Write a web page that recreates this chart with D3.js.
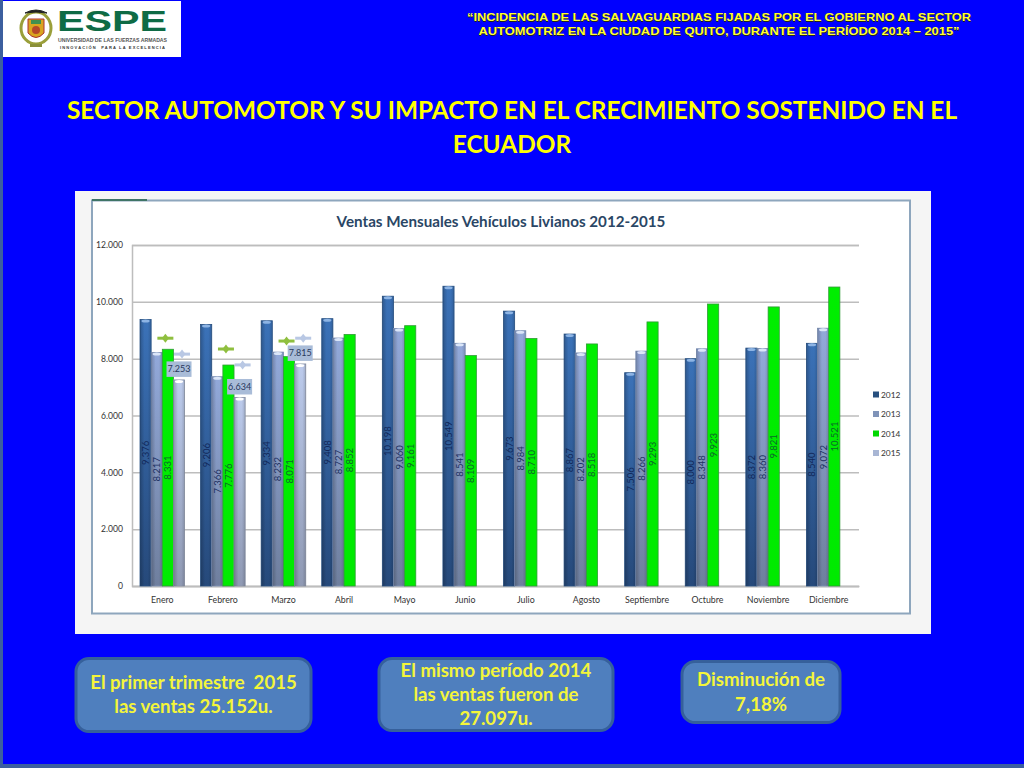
<!DOCTYPE html>
<html>
<head>
<meta charset="utf-8">
<script src="https://cdnjs.cloudflare.com/ajax/libs/d3/7.8.5/d3.min.js"></script>
<style>
html, body { margin: 0; padding: 0; background: #0000ff; overflow: hidden; }
text { font-family: Lato, "Open Sans", sans-serif; white-space: pre; }
</style>
</head>
<body>
<script>
//chart values
var months = ["Enero", "Febrero", "Marzo", "Abril", "Mayo", "Junio", "Julio", "Agosto", "Septiembre", "Octubre", "Noviembre", "Diciembre"];
var years = ["2012", "2013", "2014", "2015"];
var ventas2012 = [9376, 9206, 9334, 9408, 10198, 10549, 9673, 8867, 7506, 8000, 8372, 8540];
var ventas2013 = [8217, 7366, 8232, 8727, 9060, 8541, 8984, 8202, 8266, 8348, 8360, 9072];
var ventas2014 = [8331, 7776, 8071, 8852, 9161, 8109, 8710, 8518, 9293, 9923, 9821, 10521];
var ventas2015 = [7253, 6634, 7815];
var yTicks = [0, 2000, 4000, 6000, 8000, 10000, 12000];
//floating markers over the first quarter
var marker2014 = [8720, 8340, 8620];
var marker2015 = [8160, 7780, 8720];

var headerLines = ["“INCIDENCIA DE LAS SALVAGUARDIAS FIJADAS POR EL GOBIERNO AL SECTOR", "AUTOMOTRIZ EN LA CIUDAD DE QUITO, DURANTE EL PERÍODO 2014 – 2015”"];
var headerWidths = [504, 481];
var titleLines = ["SECTOR AUTOMOTOR Y SU IMPACTO EN EL CRECIMIENTO SOSTENIDO EN EL", "ECUADOR"];
var box1Lines = ["El primer trimestre  2015", "las ventas 25.152u."];
var box2Lines = ["El mismo período 2014", "las ventas fueron de", "27.097u."];
var box3Lines = ["Disminución de", "7,18%"];

var series = [ventas2012, ventas2013, ventas2014, ventas2015];
var topColors = ["#3b72b8", "#92a9da", "#00ee00", "#bccbec"];
var bottomColors = ["#26497a", "#6f7f9e", "#00ea00", "#8f99b3"];
var edgeColors = ["#2a5488", "#7f93b8", "#2f9a35", "#8d95a8"];
var capColors = ["#8db4e4", "#dbe6f8", "#00e000", "#ffffff"];
var labelColors = ["#12295a", "#1f3263", "#0a6a28"];
var swatchColors = ["#27507f", "#7f93b8", "#00d800", "#a8b6d4"];

function miles(d) { return d3.format(",")(d).replace(",", "."); }

var svg = d3.select("body").append("svg")
	.attr("width", 1024)
	.attr("height", 768)
	.style("display", "block");

//slide background
svg.append("rect").attr("width", 1024).attr("height", 768).attr("fill", "#0000ff");
svg.append("rect").attr("y", 764).attr("width", 1024).attr("height", 4).attr("fill", "#3c5f9f");
svg.append("rect").attr("width", 3).attr("height", 768).attr("fill", "#3c5f9f");

var defs = svg.append("defs");
series.forEach(function(s, i) {
	var g = defs.append("linearGradient")
		.attr("id", "bar" + i)
		.attr("x1", 0).attr("x2", 0).attr("y1", 0).attr("y2", 1);
	g.append("stop").attr("offset", "0%").attr("stop-color", topColors[i]);
	g.append("stop").attr("offset", "100%").attr("stop-color", bottomColors[i]);
});
//darker sides on the bars
var shade = defs.append("linearGradient").attr("id", "shade");
shade.append("stop").attr("offset", "0%").attr("stop-color", "#000").attr("stop-opacity", 0.22);
shade.append("stop").attr("offset", "40%").attr("stop-color", "#000").attr("stop-opacity", 0);
shade.append("stop").attr("offset", "70%").attr("stop-color", "#000").attr("stop-opacity", 0);
shade.append("stop").attr("offset", "100%").attr("stop-color", "#000").attr("stop-opacity", 0.15);

//logo
var logo = svg.append("g");
logo.append("rect").attr("x", 3).attr("y", 1).attr("width", 178).attr("height", 56).attr("fill", "#fff");
logo.append("ellipse").attr("cx", 36).attr("cy", 28).attr("rx", 15).attr("ry", 16)
	.attr("fill", "none").attr("stroke", "#9a9f3a").attr("stroke-width", 3);
logo.append("path").attr("d", "M28 19 L44 19 L44 33 Q36 42 28 33Z").attr("fill", "#d9a520").attr("stroke", "#a33");
logo.append("circle").attr("cx", 36).attr("cy", 30).attr("r", 4).attr("fill", "#b5482a");
logo.append("rect").attr("x", 31).attr("y", 20).attr("width", 10).attr("height", 4).attr("fill", "#3f8f4f");
logo.append("path").attr("d", "M25 13 Q36 7 47 13 Q36 11 25 13Z").attr("fill", "#222").attr("stroke", "#222");
logo.append("rect").attr("x", 30).attr("y", 44).attr("width", 12).attr("height", 3).attr("fill", "#8a8f3a");
logo.append("text").attr("x", 57).attr("y", 31)
	.attr("textLength", 110).attr("lengthAdjust", "spacingAndGlyphs")
	.style("font-family", "'Liberation Sans'").style("font-weight", "bold").style("font-size", "29px")
	.attr("fill", "#0e6b45").text("ESPE");
logo.append("text").attr("x", 58).attr("y", 42)
	.attr("textLength", 109).attr("lengthAdjust", "spacingAndGlyphs")
	.style("font-family", "'Liberation Sans'").style("font-weight", "bold").style("font-size", "5px")
	.attr("fill", "#555").text("UNIVERSIDAD DE LAS FUERZAS ARMADAS");
logo.append("text").attr("x", 60).attr("y", 49)
	.attr("textLength", 105).attr("lengthAdjust", "spacing")
	.style("font-family", "'Liberation Sans'").style("font-weight", "bold").style("font-size", "4px")
	.attr("fill", "#333").text("INNOVACIÓN  PARA LA EXCELENCIA");

//header, yellow with a dark shadow
headerLines.forEach(function(line, i) {
	[["#222", 0.8], ["#ffff33", 0]].forEach(function(p) {
		svg.append("text")
			.attr("x", 719 + p[1]).attr("y", 21 + i * 14 + p[1])
			.attr("text-anchor", "middle")
			.attr("textLength", headerWidths[i]).attr("lengthAdjust", "spacingAndGlyphs")
			.style("font-family", "'Liberation Sans'").style("font-weight", "bold").style("font-size", "11.6px")
			.attr("fill", p[0])
			.text(line);
	});
});

titleLines.forEach(function(line, i) {
	svg.append("text")
		.attr("x", 512).attr("y", 119 + i * 34)
		.attr("text-anchor", "middle")
		.style("font-weight", "bold").style("font-size", "24.4px")
		.attr("fill", "#ffff00")
		.text(line);
});

//chart picture: panel and frame
svg.append("rect").attr("x", 75).attr("y", 191).attr("width", 856).attr("height", 443).attr("fill", "#f5f5f5");
svg.append("rect").attr("x", 92).attr("y", 200.5).attr("width", 818).attr("height", 413)
	.attr("fill", "#fff").attr("stroke", "#8ea6bd").attr("stroke-width", 2);
svg.append("line").attr("x1", 92).attr("x2", 147).attr("y1", 200).attr("y2", 200)
	.attr("stroke", "#3f7466").attr("stroke-width", 2);

svg.append("text")
	.attr("x", 501).attr("y", 226.5)
	.attr("text-anchor", "middle")
	.style("font-weight", "bold").style("font-size", "15.2px")
	.attr("fill", "#2a4665")
	.text("Ventas Mensuales Vehículos Livianos 2012-2015");

var x = d3.scaleBand().domain(months).range([132, 859]);
var xYear = d3.scaleBand().domain(years).range([8, 52.6]);
var y = d3.scaleLinear().domain([0, 12000]).range([586, 245]);

//grid lines come from the y axis ticks
var yAxis = svg.append("g")
	.attr("transform", "translate(132,0)")
	.call(d3.axisLeft(y)
		.tickValues(yTicks)
		.tickSize(-727)
		.tickPadding(9)
		.tickFormat(miles));
yAxis.selectAll(".tick line").attr("stroke", "#bdbdbd").attr("stroke-width", 1.5);
yAxis.select(".domain").attr("stroke", "#bdbdbd").attr("stroke-width", 1.5);
yAxis.selectAll("text").style("font-size", "8.6px").attr("fill", "#333");

var xAxis = svg.append("g")
	.attr("transform", "translate(0,586)")
	.call(d3.axisBottom(x).tickSize(0).tickPadding(11));
xAxis.select(".domain").attr("stroke", "#bdbdbd").attr("stroke-width", 1.5);
xAxis.selectAll("text").style("font-size", "8.8px").attr("fill", "#333");

//bars, one group per year
series.forEach(function(values, i) {
	var g = svg.append("g");
	g.selectAll("rect.bar")
		.data(values)
		.enter()
		.append("rect")
		.attr("class", "bar")
		.attr("x", function(d, m) { return x(months[m]) + xYear(years[i]); })
		.attr("y", function(d) { return y(d); })
		.attr("width", xYear.bandwidth())
		.attr("height", function(d) { return y(0) - y(d); })
		.attr("fill", "url(#bar" + i + ")")
		.attr("stroke", edgeColors[i])
		.attr("stroke-width", 0.8);
	if (i != 2) {
		g.selectAll("rect.shade")
			.data(values)
			.enter()
			.append("rect")
			.attr("class", "shade")
			.attr("x", function(d, m) { return x(months[m]) + xYear(years[i]); })
			.attr("y", function(d) { return y(d); })
			.attr("width", xYear.bandwidth())
			.attr("height", function(d) { return y(0) - y(d); })
			.attr("fill", "url(#shade)");
		g.selectAll("ellipse")
			.data(values)
			.enter()
			.append("ellipse")
			.attr("cx", function(d, m) { return x(months[m]) + xYear(years[i]) + xYear.bandwidth() / 2; })
			.attr("cy", function(d) { return y(d) + 1.5; })
			.attr("rx", xYear.bandwidth() / 2 - 1.5)
			.attr("ry", 1.5)
			.attr("fill", capColors[i]);
	}
});

//rotated value labels, centred in each bar
series.slice(0, 3).forEach(function(values, i) {
	svg.append("g").selectAll("text")
		.data(values)
		.enter()
		.append("text")
		.attr("transform", function(d, m) {
			var px = x(months[m]) + xYear(years[i]) + xYear.bandwidth() / 2 + 3.5;
			return "translate(" + px + "," + y(d / 2) + ") rotate(-90)";
		})
		.attr("text-anchor", "middle")
		.style("font-size", "9.5px")
		.attr("fill", labelColors[i])
		.text(miles);
});

//cross shaped markers over the first quarter
function drawMarkers(values, yearIndex, color, dx) {
	var g = svg.append("g").selectAll("g")
		.data(values)
		.enter()
		.append("g")
		.attr("transform", function(d, m) {
			var px = x(months[m]) + xYear(years[yearIndex]) + xYear.bandwidth() / 2 + dx;
			return "translate(" + px + "," + y(d) + ")";
		});
	g.append("rect").attr("x", -8).attr("y", -1.5).attr("width", 16).attr("height", 3).attr("fill", color);
	g.append("path").attr("d", "M-3.5 0L0 -4.5L3.5 0L0 4.5Z").attr("fill", color);
}
drawMarkers(marker2014, 2, "#8fbf3f", -2.5);
drawMarkers(marker2015, 3, "#b9c8e4", 3);

//2015 value boxes
var box2015 = svg.append("g").selectAll("g")
	.data(ventas2015)
	.enter()
	.append("g")
	.attr("transform", function(d, m) {
		var px = x(months[m]) + xYear("2015") + xYear.bandwidth() / 2;
		return "translate(" + px + "," + (y(d) - 10.5) + ")";
	});
box2015.append("rect").attr("x", -12.5).attr("y", -8).attr("width", 25).attr("height", 15.5).attr("fill", "#a9bcd8");
box2015.append("text")
	.attr("text-anchor", "middle").attr("y", 3)
	.style("font-size", "9px").attr("fill", "#28385c")
	.text(miles);

//legend
var legendY = d3.scalePoint().domain(years).range([394, 452.5]);
var legend = svg.append("g").selectAll("g")
	.data(years)
	.enter()
	.append("g")
	.attr("transform", function(d) { return "translate(873," + legendY(d) + ")"; });
legend.append("rect").attr("y", -2.5).attr("width", 6).attr("height", 6)
	.attr("fill", function(d, i) { return swatchColors[i]; });
legend.append("text").attr("x", 8).attr("y", 3.5)
	.style("font-size", "8.4px").attr("fill", "#333")
	.text(function(d) { return d; });

//text boxes under the chart
function drawBox(bx, by, bw, bh, lines, firstY, lineGap) {
	svg.append("rect")
		.attr("x", bx).attr("y", by).attr("width", bw).attr("height", bh).attr("rx", 13)
		.attr("fill", "#4f7fbe").attr("stroke", "#36609b").attr("stroke-width", 3);
	lines.forEach(function(line, i) {
		svg.append("text")
			.attr("x", bx + bw / 2).attr("y", firstY + i * lineGap)
			.attr("text-anchor", "middle")
			.style("font-weight", "bold").style("font-size", "18.6px")
			.attr("fill", "#f4f53a")
			.text(line);
	});
}
drawBox(76, 658.5, 235, 73, box1Lines, 689, 24);
drawBox(379, 658.5, 234, 72, box2Lines, 677, 24);
drawBox(682, 661.5, 158, 61, box3Lines, 686, 25);
</script>
</body>
</html>
